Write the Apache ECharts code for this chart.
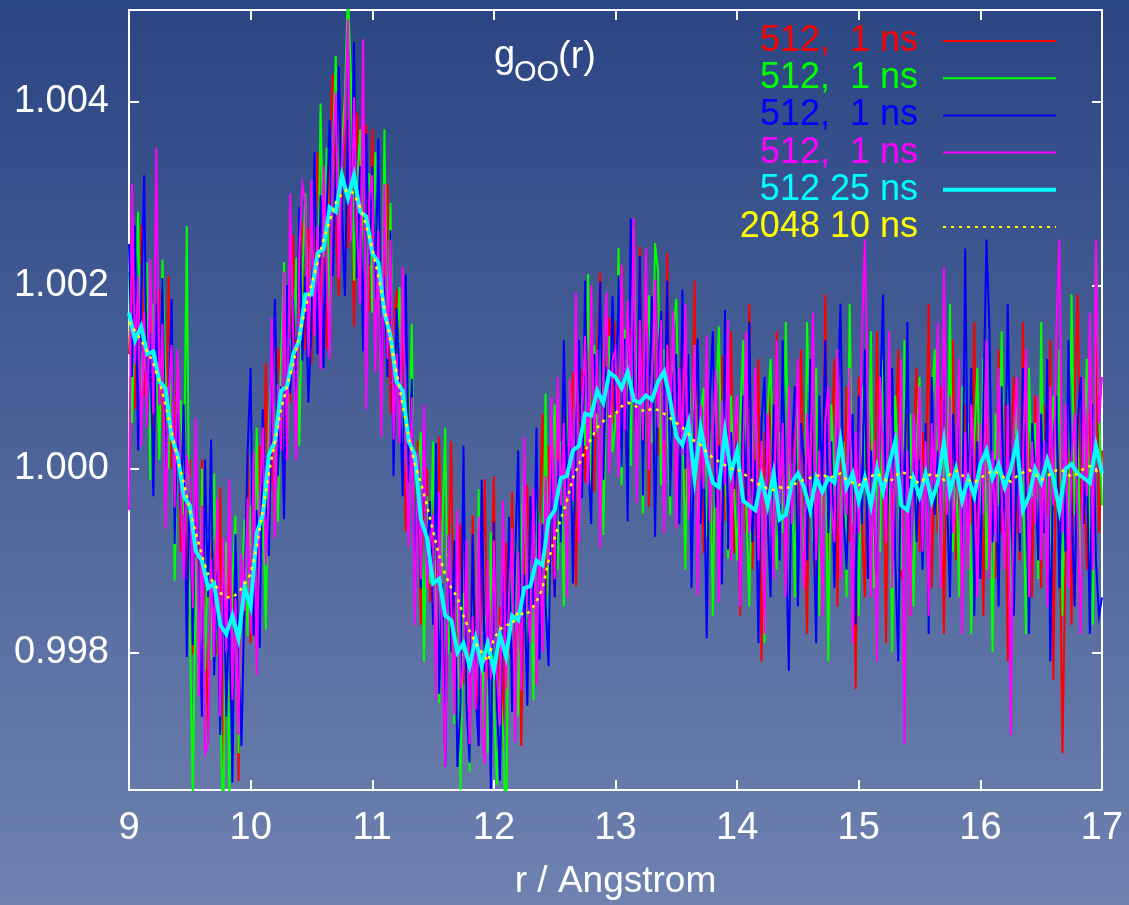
<!DOCTYPE html>
<html><head><meta charset="utf-8">
<script src="https://cdn.jsdelivr.net/npm/echarts@6/dist/echarts.min.js"></script>
<style>html,body{margin:0;padding:0;width:1129px;height:905px;overflow:hidden}#c{width:1129px;height:905px}</style>
</head><body><div id="c"></div>
<script>
// ---- axis / grid of r (Angstrom) ----
const R_START = 9;          // first r value
const ROW_SPAN = 0.5;       // each data row covers 0.5 Angstrom
const STEP_1NS = 0.025;     // spacing of the 1 ns runs
const STEP_LONG = 0.05;     // spacing of the long runs
const xTickValues = [9, 10, 11, 12, 13, 14, 15, 16, 17];
const yTickValues = [0.998, 1.000, 1.002, 1.004];
const seriesNames = ['512,  1 ns', '512,  1 ns', '512,  1 ns', '512,  1 ns', '512 25 ns', '2048 10 ns'];

// ---- values: (g_OO(r) - 1) in units of 1e-5, one row per 0.5 Angstrom ----
const red1ns = [
[125,230,65,180,265,80,125,213,-10,150,195,68,0,210,0,38,120,-90,15,-155],
[10,-202,-35,-168,10,-140,-290,-108,-45,-202,-20,-345,-210,-91,-312,-61,-340,-112,-165,18],
[-190,-52,-195,25,-75,115,-65,35,-65,132,100,-35,160,72,255,60,165,268,130,262],
[115,255,345,178,270,130,350,430,270,188,365,408,240,348,155,388,320,238,375,172],
[370,185,270,95,200,310,60,152,195,28,180,-68,75,88,-90,30,-170,-40,0,-145],
[-30,-182,35,-175,-265,-102,30,-268,-165,-60,-235,-108,-270,-51,-192,-302,-142,-11,-230,-159],
[-8,-264,-150,-305,-80,-202,-25,-248,-90,-302,-115,-18,-170,-32,-235,-68,60,-138,25,-72],
[-140,30,-60,120,-80,28,105,-128,70,108,-15,172,40,-25,120,214,-32,112,165,48],
[160,41,222,72,-17,153,113,13,242,51,180,-41,118,196,15,122,-20,235,40,112],
[-35,80,155,-100,95,10,205,-48,60,-92,105,32,-150,78,-25,124,-57,12,150,-92],
[70,-160,30,-70,180,-110,10,120,-210,40,-40,100,-90,150,-50,0,-130,60,-20,90],
[-70,130,-30,-180,80,20,-120,50,-50,190,-100,10,120,-150,40,-40,90,-80,0,-240],
[100,-50,-140,60,10,-100,150,-30,40,-190,80,-70,20,130,-120,-10,60,-160,30,110],
[-90,40,-30,180,-130,20,-70,90,-180,50,-20,140,-100,30,-140,70,10,-60,160,-110],
[50,-160,90,-40,10,-120,130,-70,70,-210,20,100,-50,-100,160,-30,40,-140,80,-10],
[-130,70,-50,140,-230,50,-20,-310,-90,20,-170,80,190,-60,10,-110,60,-40,180,-70],
[20]
];
const green1ns = [
[215,50,175,280,75,120,225,-12,180,120,10,228,105,0,155,-122,50,75,-50,265],
[-170,-362,-95,-248,0,-220,-70,-208,-5,-182,-240,-405,-80,-361,-122,-51,-310,-132,-55,-182],
[-40,-142,45,-155,-25,-175,55,115,5,-58,120,225,30,142,105,230,25,208,300,132],
[235,325,145,398,230,350,130,340,450,248,345,408,520,428,205,308,370,218,115,322],
[170,345,250,65,370,140,290,62,135,198,-20,112,-5,158,-110,0,40,-210,-30,-125],
[30,-172,-255,-75,45,-202,-140,-278,-95,-350,-135,-178,-330,-91,-252,-22,-282,-161,-310,-69],
[-258,-344,-230,-285,-410,-52,-195,-78,-270,-82,15,-198,-100,-252,-15,-68,-140,82,-165,-12],
[70,-110,30,-150,20,98,-45,152,-70,78,25,212,-30,135,40,194,-72,92,145,18],
[50,241,-18,152,113,3,263,63,172,-49,130,189,28,246,215,-18,130,55,-50,152],
[185,-10,65,-110,125,20,135,-98,60,88,-75,42,-160,68,155,-36,13,-98,80,-22],
[-100,50,140,-40,-150,10,90,-80,30,-190,60,120,-30,-110,40,-70,160,-20,20,-140],
[80,-50,-120,160,20,-80,110,-160,0,50,-210,70,-30,130,-100,30,-140,180,-60,10],
[-160,90,30,-70,150,-130,10,-90,120,-40,50,-200,80,0,-110,140,-50,60,-150,20],
[100,-80,20,-170,70,130,-30,-120,50,-50,180,-90,10,-140,90,-20,50,-180,30,110],
[-50,120,-110,10,-200,60,-40,150,-70,90,-150,20,70,-90,0,-180,110,-30,50,-120],
[160,-70,30,-130,80,-30,130,-160,20,-90,190,-50,50,-120,10,120,-80,-170,240,70],
[-40]
];
const blue1ns = [
[245,100,265,20,185,320,45,148,-30,180,70,208,-5,70,185,-82,60,-45,70,-205],
[-10,-192,15,-138,-270,10,-140,32,-225,-112,-290,-95,-270,-141,-342,-71,-200,-302,-135,18],
[110,-182,-45,-195,65,-45,-95,85,185,-8,90,-55,200,82,185,40,285,118,210,72],
[155,345,125,298,110,280,380,210,320,438,285,188,380,248,465,208,330,128,365,222],
[330,185,360,85,210,100,260,-8,175,98,-30,212,-15,98,-140,20,-130,50,-100,-35],
[-170,28,-245,-125,-325,-72,-200,-78,-325,-260,25,-258,-320,-71,-242,-302,-12,-221,-140,-349],
[-58,-254,-340,-105,-210,-52,-265,-98,20,-222,-115,-258,-30,-152,45,-208,-60,-148,-215,28],
[-140,10,-80,140,-30,88,-125,42,140,-32,205,12,-60,125,60,204,-12,112,35,188],
[60,211,2,142,-57,273,103,23,232,-29,150,69,188,-74,115,172,30,205,-30,102],
[125,-60,195,0,125,-130,55,142,-60,28,-185,72,150,-42,25,-126,173,-88,40,-22],
[30,-130,80,-40,160,-80,10,-190,50,100,-50,-140,70,0,-100,140,-70,-220,20,90],
[-150,50,10,-100,120,-40,-190,80,-20,140,-70,30,-130,70,180,-50,-110,10,60,-170],
[80,-60,130,-120,20,-30,-160,70,190,-70,0,110,-100,-210,50,-40,160,-130,30,-80],
[10,-110,50,-180,100,-50,20,-90,140,-30,-140,60,-20,50,-100,240,-60,110,-160,30],
[-120,70,250,150,-80,10,-150,90,-70,180,-30,-160,30,-90,110,-20,-180,50,0,-100],
[60,-70,120,-210,30,80,-130,10,-90,140,-40,-150,50,100,-60,20,-180,70,-100,-160],
[-140]
];
const magenta1ns = [
[-45,310,115,210,25,170,45,228,60,350,70,158,-65,80,135,-42,130,-25,-120,15],
[-10,-152,55,-248,-40,-310,-300,-98,-205,-32,-270,-75,-200,-11,-252,-141,-290,-92,-155,-32],
[-180,18,-225,-35,45,-105,-25,165,-75,92,20,215,10,300,145,10,235,310,290,122],
[315,145,265,108,330,220,120,340,410,208,335,378,490,248,405,258,180,468,65,292],
[320,105,260,35,310,120,250,32,125,28,220,22,-85,78,-170,20,-120,70,-130,-85],
[-50,-252,-25,-185,-325,-72,-150,-268,-45,-240,-215,-78,-300,-161,-262,-52,-282,-321,-100,-229],
[-78,-224,-280,-35,-240,-142,-65,-298,-90,-242,35,-148,-190,-22,-235,-58,-200,-8,-105,78],
[-120,100,-40,50,-140,98,-35,192,-80,58,145,-18,200,35,130,-86,118,192,-5,118],
[130,-9,222,42,183,73,273,-37,162,31,240,-1,98,206,45,162,-70,135,60,172],
[-65,110,15,180,-55,50,135,-138,70,-22,145,-58,40,108,-145,74,-17,162,-100,38],
[80,-150,20,150,-70,-30,110,-100,30,-180,60,0,-120,140,-40,50,-140,90,-60,10],
[120,-60,-130,60,-30,170,-100,20,-160,50,90,-40,-80,130,-120,10,-50,110,-190,40],
[-70,140,250,80,-140,30,-210,100,10,-80,150,-130,40,-30,120,-300,20,-160,60,-20],
[90,-90,30,-160,50,-20,160,-130,220,-50,80,-70,-30,120,-180,40,-110,70,0,-140],
[50,-50,140,-120,20,-80,110,-30,-110,70,-290,40,100,-70,10,130,-140,30,-60,80],
[-100,30,-150,90,-40,150,250,-70,70,-130,10,60,-60,-180,100,-30,170,-110,250,50],
[100]
];
const cyan25ns = [
[170,140,155,125,128,95,88,35,15,-30],
[-40,-90,-100,-130,-125,-170,-180,-160,-185,-130],
[-150,-70,-50,15,30,85,90,125,140,190],
[190,235,240,285,280,320,295,320,280,275],
[235,225,170,145,95,85,30,15,-55,-75],
[-125,-120,-160,-165,-200,-190,-215,-185,-215,-190],
[-220,-180,-205,-160,-165,-130,-128,-100,-105,-55],
[-45,-10,-8,20,25,60,58,85,72,105],
[100,88,106,75,72,80,75,95,106,75],
[35,26,50,-10,45,10,-15,-20,40,-5],
[20,-35,-40,-45,-10,-40,-5,-55,-50,-15],
[-5,-20,-45,-10,-25,-10,-15,30,-20,-5],
[-35,-10,-40,0,-25,5,30,-40,-45,-10],
[-30,-5,-35,-15,30,-25,0,-35,-10,-30],
[5,20,-10,5,-20,0,30,-45,-30,0],
[-15,10,-10,-45,0,5,-5,-10,-15,25],
[-5]
];
const yellow10ns = [
[160,150,140,128,115,95,70,40,10,-15],
[-45,-70,-95,-115,-125,-135,-140,-140,-135,-125],
[-115,-85,-45,-5,30,65,90,115,145,175],
[200,225,250,270,290,300,305,300,285,265],
[240,210,175,140,105,70,35,5,-15,-40],
[-68,-95,-115,-130,-140,-160,-177,-190,-200,-210],
[-185,-175,-170,-170,-155,-160,-155,-145,-130,-100],
[-75,-55,-35,-10,5,20,33,45,52,57],
[60,68,72,70,65,62,66,64,60,55],
[50,45,38,30,26,18,12,8,4,0],
[0,-5,-10,-15,-18,-22,-23,-20,-22,-18],
[-15,-12,-10,-8,-6,-10,-8,-5,-12,-15],
[-18,-12,-8,-5,-10,-15,-8,-3,-6,-12],
[-16,-10,-5,-8,-12,-6,-2,-7,-12,-15],
[-10,-6,-2,-5,-10,-14,-8,-4,-1,-6],
[-12,-8,-3,0,-4,-9,-5,0,3,-2],
[-6]
];

// ---- build [r, g] pairs ----
function toPairs(rows, step) {
  const out = [];
  rows.forEach((row, k) => row.forEach((v, j) => {
    out.push([+(R_START + k * ROW_SPAN + j * step).toFixed(4), 1 + v * 1e-5]);
  }));
  return out;
}

const FONT = "'Liberation Sans', Arial, Helvetica, sans-serif";
const colors = ['#ff0000', '#00ff00', '#0000ff', '#ff00ff', '#00ffff', '#ffff00'];
const widths = [2, 2, 2, 2, 4, 2.5];
const dataSets = [
  toPairs(red1ns, STEP_1NS), toPairs(green1ns, STEP_1NS), toPairs(blue1ns, STEP_1NS),
  toPairs(magenta1ns, STEP_1NS), toPairs(cyan25ns, STEP_LONG), toPairs(yellow10ns, STEP_LONG)
];

const series = dataSets.map((d, i) => ({
  name: seriesNames[i] + ' #' + i,
  type: 'line', data: d, showSymbol: false, symbol: 'none',
  xAxisIndex: 0, yAxisIndex: 0, clip: true, z: 2 + i,
  lineStyle: { color: colors[i], width: widths[i], type: i === 5 ? [3, 5] : 'solid', join: 'miter' },
  silent: true
}));

// legend drawn as graphic (text right aligned, sample line to the right)
const legendX = 918, lineX1 = 943, lineX2 = 1056, legendY0 = 41, legendDY = 37.2;
const graphic = [];
seriesNames.forEach((t, i) => {
  const y = legendY0 + i * legendDY;
  graphic.push({ type: 'text', x: legendX, y: y, z: 100,
    style: { text: t, fill: colors[i], font: '36px ' + FONT, textAlign: 'right', textVerticalAlign: 'middle' } });
  graphic.push({ type: 'line', z: 100, shape: { x1: lineX1, y1: y, x2: lineX2, y2: y },
    style: { stroke: colors[i], lineWidth: i === 4 ? 4 : 2, lineDash: i === 5 ? [3, 5] : null } });
});
// title g_OO(r)
graphic.push({ type: 'text', x: 494, y: 57, z: 100, style: { text: 'g', fill: '#fff', font: '38px ' + FONT, textVerticalAlign: 'middle' } });
graphic.push({ type: 'text', x: 514, y: 73, z: 100, style: { text: 'OO', fill: '#fff', font: '29px ' + FONT, textVerticalAlign: 'middle' } });
graphic.push({ type: 'text', x: 558, y: 58, z: 100, style: { text: '(r)', fill: '#fff', font: '38px ' + FONT, textVerticalAlign: 'middle' } });

const axisCommon = {
  type: 'value', splitLine: { show: false },
  axisLine: { show: false },
  axisTick: { show: true, inside: true, length: 10, lineStyle: { color: '#fff', width: 2 } }
};

const option = {
  animation: false,
  backgroundColor: { type: 'linear', x: 0, y: 0, x2: 0, y2: 1,
    colorStops: [{ offset: 0, color: '#2a4583' }, { offset: 1, color: '#6f82b0' }] },
  grid: { left: 129, right: 27, top: 10, bottom: 112, show: true, borderColor: '#ffffff', borderWidth: 2, backgroundColor: 'transparent' },
  xAxis: [
    Object.assign({}, axisCommon, { position: 'bottom', min: 9, max: 17, interval: 1,
      axisLabel: { color: '#fff', fontSize: 38, fontFamily: FONT, margin: 20, customValues: xTickValues },
      axisTick: Object.assign({}, axisCommon.axisTick, { customValues: xTickValues }),
      name: 'r / Angstrom', nameLocation: 'middle', nameGap: 73,
      nameTextStyle: { color: '#fff', fontSize: 37, fontFamily: FONT } }),
    Object.assign({}, axisCommon, { position: 'top', min: 9, max: 17, interval: 1,
      axisLabel: { show: false },
      axisTick: Object.assign({}, axisCommon.axisTick, { customValues: xTickValues }) })
  ],
  yAxis: [
    Object.assign({}, axisCommon, { position: 'left', min: 0.9965, max: 1.005,
      axisLabel: { color: '#fff', fontSize: 38, fontFamily: FONT, margin: 20, customValues: yTickValues,
        formatter: v => v.toFixed(3) },
      axisTick: Object.assign({}, axisCommon.axisTick, { customValues: yTickValues }) }),
    Object.assign({}, axisCommon, { position: 'right', min: 0.9965, max: 1.005,
      axisLabel: { show: false },
      axisTick: Object.assign({}, axisCommon.axisTick, { customValues: yTickValues }) })
  ],
  series: series,
  graphic: graphic
};

const chart = echarts.init(document.getElementById('c'), null, { renderer: 'canvas' });
chart.setOption(option);
</script></body></html>
